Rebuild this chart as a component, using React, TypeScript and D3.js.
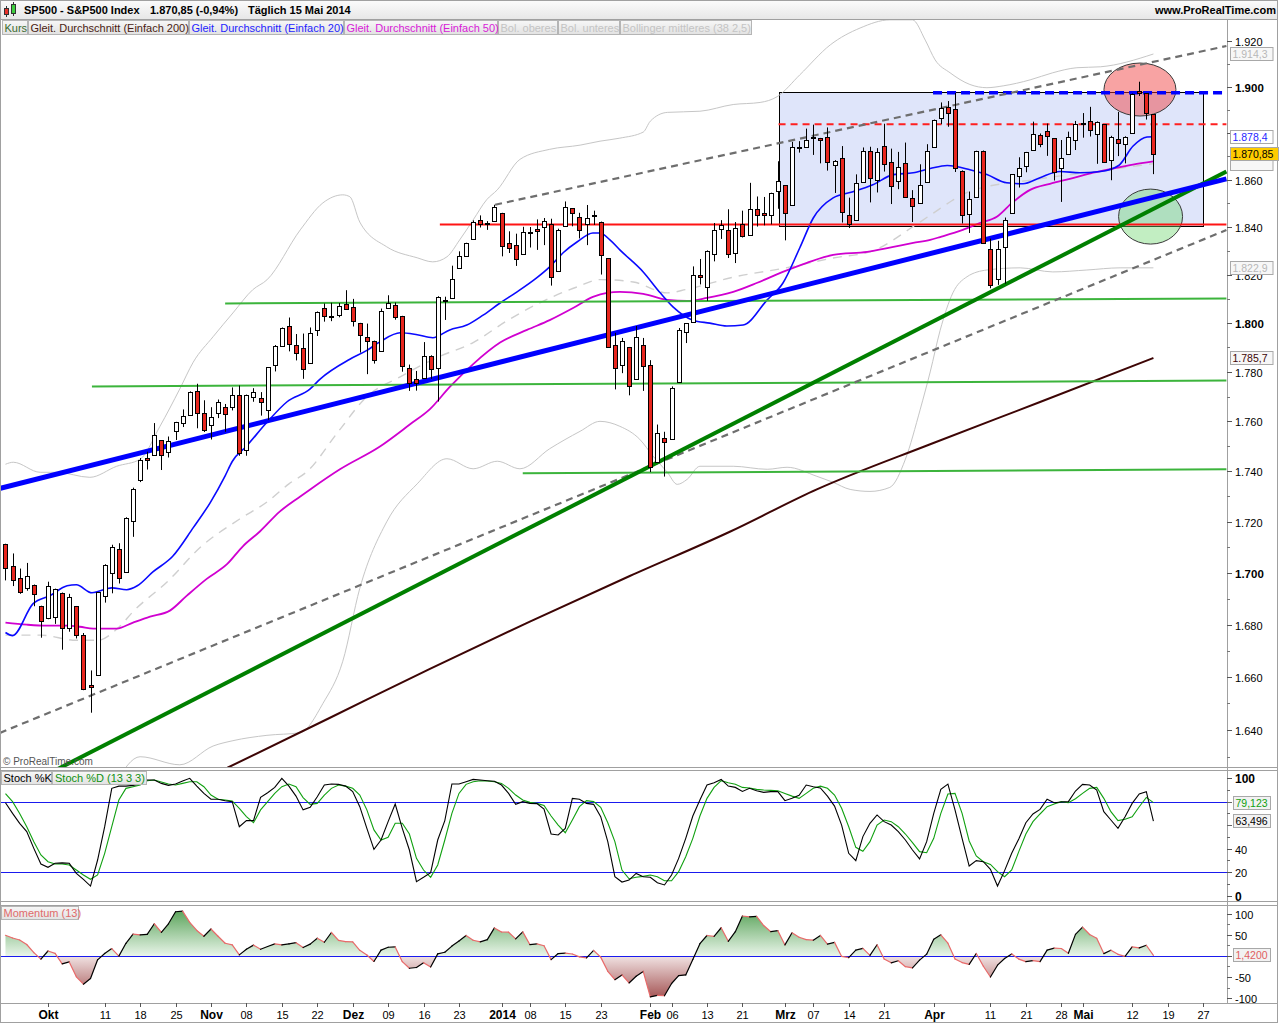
import React from "react";
import * as d3 from "d3";

// ---------------- DATA ----------------
const sessionDays: [string, number[]][] = [
  ["2013-09", [23, 24, 25, 26, 27, 30]],
  ["2013-10", [1, 2, 3, 4, 7, 8, 9, 10, 11, 14, 15, 16, 17, 18, 21, 22, 23, 24, 25, 28, 29, 30, 31]],
  ["2013-11", [1, 4, 5, 6, 7, 8, 11, 12, 13, 14, 15, 18, 19, 20, 21, 22, 25, 26, 27, 29]],
  ["2013-12", [2, 3, 4, 5, 6, 9, 10, 11, 12, 13, 16, 17, 18, 19, 20, 23, 24, 26, 27, 30, 31]],
  ["2014-01", [2, 3, 6, 7, 8, 9, 10, 13, 14, 15, 16, 17, 21, 22, 23, 24, 27, 28, 29, 30, 31]],
  ["2014-02", [3, 4, 5, 6, 7, 10, 11, 12, 13, 14, 18, 19, 20, 21, 24, 25, 26, 27, 28]],
  ["2014-03", [3, 4, 5, 6, 7, 10, 11, 12, 13, 14, 17, 18, 19, 20, 21, 24, 25, 26, 27, 28, 31]],
  ["2014-04", [1, 2, 3, 4, 7, 8, 9, 10, 11, 14, 15, 16, 17, 21, 22, 23, 24, 25, 28, 29, 30]],
  ["2014-05", [1, 2, 5, 6, 7, 8, 9, 12, 13, 14, 15, 16, 19, 20, 21, 22, 23, 27, 28, 29, 30]],
];

const openPrices = [
  1711.4, 1702.6, 1698.0, 1694.0, 1695.5, 1687.3,
  1682.4, 1683.0, 1692.4, 1678.8, 1687.2, 1676.2, 1657.0, 1660.9, 1691.1, 1699.9, 1709.2, 1700.5, 1720.2, 1736.7, 1745.2, 1746.5, 1752.3, 1747.5, 1756.0, 1759.4, 1762.4, 1772.3, 1763.2,
  1758.7, 1763.4, 1765.7, 1765.7, 1770.7, 1748.4, 1770.0, 1769.5, 1764.4, 1782.8, 1790.7, 1798.8, 1790.8, 1789.6, 1783.5, 1797.0, 1806.3, 1802.9, 1803.5, 1808.0,
  1806.6, 1800.1, 1794.2, 1792.8, 1788.4, 1806.2, 1807.6, 1802.8, 1781.7, 1777.0, 1777.5, 1786.5, 1781.5, 1809.0, 1810.4, 1822.9, 1828.0, 1835.0, 1843.0, 1841.5, 1842.6,
  1845.9, 1833.2, 1832.3, 1828.7, 1837.9, 1839.0, 1840.1, 1841.3, 1821.4, 1840.5, 1848.0, 1844.2, 1841.1, 1844.7, 1842.3, 1827.0, 1791.0, 1783.0, 1790.2, 1777.2, 1790.9,
  1782.7, 1743.8, 1753.4, 1753.0, 1776.0, 1796.2, 1800.5, 1820.1, 1814.8, 1828.5, 1839.0, 1838.9, 1829.2, 1841.1, 1836.8, 1847.7, 1845.8, 1844.9, 1855.1,
  1857.7, 1849.2, 1874.1, 1874.2, 1878.5, 1877.9, 1878.3, 1866.2, 1869.1, 1845.1, 1842.8, 1858.9, 1872.3, 1860.1, 1874.5, 1867.7, 1859.5, 1867.1, 1852.1, 1850.1, 1859.2,
  1874.0, 1886.6, 1891.4, 1890.3, 1863.9, 1845.5, 1852.6, 1872.3, 1830.7, 1818.2, 1831.5, 1846.0, 1861.7, 1865.8, 1872.6, 1879.3, 1881.0, 1877.7, 1865.0, 1870.8, 1877.1,
  1884.4, 1885.3, 1879.5, 1883.7, 1868.5, 1877.4, 1875.3, 1880.0, 1898.0, 1897.1, 1888.2,
];
const highPrices = [
  1711.4, 1707.6, 1701.7, 1703.9, 1695.5, 1687.3,
  1696.6, 1693.9, 1692.4, 1691.9, 1687.2, 1676.8, 1662.5, 1692.6, 1703.4, 1711.0, 1711.6, 1721.8, 1733.5, 1745.3, 1747.8, 1759.3, 1752.3, 1753.9, 1759.8, 1764.8, 1772.1, 1775.2, 1768.5,
  1765.7, 1768.8, 1767.0, 1773.7, 1774.5, 1770.8, 1773.4, 1771.8, 1782.0, 1791.0, 1798.2, 1802.3, 1795.5, 1795.7, 1798.2, 1804.8, 1808.1, 1808.4, 1808.3, 1813.6,
  1810.0, 1800.1, 1799.8, 1792.8, 1806.0, 1811.5, 1808.5, 1803.0, 1783.0, 1780.4, 1792.2, 1786.8, 1811.1, 1810.9, 1823.8, 1829.8, 1833.4, 1842.8, 1844.9, 1842.5, 1849.4,
  1846.0, 1838.2, 1837.2, 1840.1, 1840.0, 1843.2, 1843.8, 1843.5, 1839.3, 1850.8, 1848.0, 1846.0, 1849.3, 1846.9, 1842.3, 1827.0, 1796.0, 1793.9, 1790.2, 1798.8, 1793.9,
  1784.8, 1758.7, 1755.8, 1774.1, 1798.0, 1799.9, 1823.5, 1826.6, 1830.2, 1841.7, 1842.9, 1847.5, 1842.1, 1846.9, 1858.7, 1852.9, 1852.7, 1854.5, 1867.9,
  1857.7, 1876.2, 1876.5, 1881.9, 1883.6, 1877.9, 1882.4, 1868.4, 1874.4, 1852.4, 1862.3, 1873.8, 1874.1, 1873.5, 1884.0, 1873.3, 1871.9, 1875.9, 1855.6, 1866.6, 1875.2,
  1885.8, 1893.2, 1893.8, 1897.3, 1864.0, 1855.0, 1872.4, 1872.5, 1835.1, 1834.2, 1844.0, 1862.4, 1869.6, 1871.9, 1884.9, 1879.8, 1884.1, 1877.7, 1877.0, 1880.6, 1885.2,
  1888.6, 1891.3, 1885.0, 1883.7, 1878.8, 1889.1, 1878.6, 1897.1, 1902.2, 1897.1, 1888.2,
];
const lowPrices = [
  1697.1, 1694.9, 1691.9, 1693.1, 1687.1, 1675.0,
  1682.1, 1680.3, 1670.4, 1677.3, 1674.7, 1655.0, 1646.5, 1660.9, 1688.5, 1692.1, 1695.9, 1700.5, 1714.1, 1735.7, 1740.7, 1746.5, 1740.5, 1745.5, 1752.5, 1757.7, 1762.4, 1757.2, 1755.7,
  1752.7, 1761.3, 1755.8, 1764.4, 1746.2, 1746.2, 1767.9, 1762.3, 1760.6, 1780.2, 1790.7, 1788.4, 1784.7, 1777.2, 1783.5, 1794.7, 1800.6, 1800.8, 1802.4, 1805.8,
  1798.6, 1787.9, 1779.1, 1783.4, 1788.4, 1806.2, 1801.4, 1780.1, 1772.3, 1772.4, 1777.5, 1777.2, 1768.0, 1801.3, 1810.4, 1822.9, 1828.0, 1835.0, 1839.8, 1838.8, 1842.4,
  1827.7, 1829.1, 1823.7, 1828.7, 1831.4, 1830.4, 1832.4, 1815.5, 1821.4, 1840.5, 1840.3, 1835.2, 1832.4, 1840.9, 1820.1, 1790.2, 1772.9, 1779.5, 1770.5, 1777.2, 1772.3,
  1739.7, 1743.8, 1737.9, 1753.0, 1776.0, 1791.8, 1800.4, 1816.0, 1809.2, 1825.6, 1835.0, 1827.0, 1824.9, 1835.6, 1836.8, 1840.2, 1840.7, 1841.1, 1847.7,
  1834.4, 1849.2, 1871.6, 1874.2, 1870.6, 1867.0, 1863.9, 1854.4, 1841.9, 1839.6, 1842.8, 1858.9, 1850.4, 1854.6, 1863.5, 1849.7, 1856.0, 1852.5, 1842.1, 1850.1, 1859.2,
  1874.0, 1883.8, 1882.7, 1863.3, 1841.5, 1837.5, 1852.4, 1833.0, 1814.4, 1815.8, 1816.3, 1846.0, 1856.7, 1863.2, 1872.6, 1873.9, 1870.2, 1859.7, 1850.6, 1870.8, 1872.7,
  1878.0, 1878.5, 1866.8, 1867.7, 1859.8, 1870.1, 1867.0, 1880.0, 1896.0, 1885.8, 1862.4,
];
const closePrices = [
  1701.84, 1697.42, 1692.77, 1698.67, 1691.75, 1681.55,
  1695.0, 1693.87, 1678.66, 1690.5, 1676.12, 1655.45, 1656.4, 1692.56, 1703.2, 1710.14, 1698.06, 1721.54, 1733.15, 1744.5, 1744.66, 1754.67, 1746.38, 1752.07, 1759.77, 1762.11, 1771.95, 1763.31, 1756.54,
  1761.64, 1767.93, 1762.97, 1770.49, 1747.15, 1770.61, 1771.89, 1767.69, 1782.0, 1790.62, 1798.18, 1791.53, 1787.87, 1781.37, 1795.85, 1804.76, 1802.75, 1802.48, 1807.23, 1805.81,
  1800.9, 1795.15, 1792.81, 1785.03, 1805.09, 1808.37, 1802.62, 1782.22, 1775.5, 1775.32, 1786.54, 1781.0, 1810.65, 1809.6, 1818.32, 1827.99, 1833.32, 1842.02, 1841.4, 1841.07, 1848.36,
  1831.98, 1831.37, 1826.77, 1837.88, 1837.49, 1838.13, 1842.37, 1819.2, 1838.88, 1848.38, 1845.89, 1838.7, 1843.8, 1844.86, 1828.46, 1790.29, 1781.56, 1792.5, 1774.2, 1794.19, 1782.59,
  1741.89, 1755.2, 1751.64, 1773.43, 1797.02, 1799.84, 1819.75, 1819.26, 1829.83, 1838.63, 1840.76, 1828.75, 1839.78, 1836.25, 1847.61, 1845.12, 1845.16, 1854.29, 1859.45,
  1845.73, 1873.91, 1873.81, 1877.03, 1878.04, 1877.17, 1867.63, 1868.2, 1846.34, 1841.13, 1858.83, 1872.25, 1860.77, 1872.01, 1866.52, 1857.44, 1865.62, 1852.56, 1849.04, 1857.62, 1872.34,
  1885.52, 1890.9, 1888.77, 1865.09, 1845.04, 1851.96, 1872.18, 1833.08, 1815.69, 1830.61, 1842.98, 1862.31, 1864.85, 1871.89, 1879.55, 1875.39, 1878.61, 1863.4, 1869.43, 1878.33, 1883.95,
  1883.68, 1881.14, 1884.66, 1867.72, 1878.21, 1875.63, 1878.48, 1896.65, 1897.45, 1888.53, 1870.85,
];
// the 13 closes before the first visible session (needed for Momentum 13)
const closesBeforeStart = [1653.08, 1655.08, 1655.17, 1671.71, 1683.99, 1689.13, 1683.42, 1687.99, 1697.6, 1704.76, 1725.52, 1722.34, 1709.91];

// indicator lines: [session index, value]
const sma20Points: [number, number][] = [
  [0, 1677], [1, 1675.8], [3.9, 1688.1], [6.3, 1691.2], [8.7, 1695], [10, 1695.4], [12.2, 1692.3], [15, 1694.2], [17.1, 1693.5], [18.6, 1695],
  [20.8, 1700.4], [23.6, 1706.5], [26.5, 1717.7], [28.9, 1727.6], [31, 1738.2], [32, 1743.9], [34, 1750], [36.9, 1759.6], [39.7, 1767.8], [43, 1773.1],
  [44.4, 1777.1], [48.6, 1785.2], [51, 1788.8], [52.9, 1792.4], [55.7, 1796], [58.1, 1795.2], [60.3, 1794], [62.7, 1797.2], [65.1, 1799.2], [67.4, 1803.3],
  [69.8, 1808.3], [72.2, 1812.9], [75, 1818.8], [76.8, 1823.3], [78.7, 1829.2], [80.7, 1833.8], [82.9, 1837.5], [83.9, 1837.5], [85.3, 1834.6], [86.7, 1830.4],
  [90, 1821.2], [92.4, 1812.5], [94.2, 1806.7], [97, 1801.2], [99.4, 1800], [101.8, 1798.8], [104.1, 1799.2], [107.5, 1809.6], [109.7, 1816.5], [112.1, 1831.3],
  [114, 1843.8], [116.8, 1852.3], [119.6, 1854.9], [122.4, 1857.9], [125.3, 1862.2], [128.1, 1863], [130.5, 1864.8], [132.9, 1866.1], [136.1, 1864.3], [138.5, 1862.2],
  [141.3, 1858.7], [143.6, 1858.3], [146, 1860.9], [148.8, 1863.5], [151.6, 1863], [154.5, 1863.5], [157.1, 1866.1], [159.1, 1874.3], [161.1, 1878.3], [162, 1878.4],
];
const sma50Points: [number, number][] = [
  [0, 1680.8], [3, 1680], [5.9, 1679.6], [8.7, 1679.6], [10.5, 1679.2], [12.4, 1678.5], [15.7, 1678.5], [18, 1680.8], [20.4, 1683.1], [23.2, 1685.4],
  [25.6, 1691.2], [28.4, 1697.7], [31.3, 1703.5], [33.5, 1710.4], [35.9, 1716.2], [38.7, 1724], [41.6, 1730], [43, 1732.8], [47.2, 1740.8], [52.9, 1750],
  [57.1, 1758.8], [59.9, 1764.9], [62.7, 1773.9], [66, 1783.2], [69.8, 1792], [73.6, 1797.2], [76.8, 1801.2], [80.1, 1806.2], [82.9, 1810.8], [84.9, 1812.5],
  [86.7, 1812.9], [90, 1812.1], [93.4, 1809.6], [96.2, 1809.2], [99, 1810.4], [102.7, 1812.9], [106.1, 1816.7], [109.7, 1821.2], [113.1, 1825], [116.8, 1828.3],
  [121.6, 1829.6], [125.3, 1831.7], [128.1, 1833.3], [130.5, 1834.6], [131.9, 1835.8], [135.1, 1838.8], [137.5, 1841.7], [139.9, 1844.3], [142.2, 1850.6], [144.6, 1855.7],
  [147.4, 1858.3], [150.2, 1860.4], [153.5, 1863], [156.3, 1864.8], [159.1, 1866.5], [162, 1867.8],
];
const sma200Points: [number, number][] = [
  [22, 1614], [31.4, 1626], [45.8, 1644.6], [59.9, 1663.1], [74, 1681.2], [88.1, 1698.8], [102.3, 1716.2], [114.5, 1732.8], [130.5, 1750.8], [146, 1767.8], [162, 1785.7],
];
const bollUpperPoints: [number, number][] = [
  [0, 1742.8], [1.1, 1743.6], [4.9, 1739.6], [7.3, 1739.6], [11.9, 1737.6], [15.7, 1742], [19, 1744.8], [21.8, 1758], [24.6, 1773.1], [26.5, 1784],
  [29.3, 1794.4], [32.1, 1804.2], [34.9, 1813.8], [36.9, 1817.9], [41.6, 1838.8], [44.8, 1850.2], [47.6, 1853.6], [48.6, 1852.8], [50, 1842.1], [53.8, 1831.7],
  [58.1, 1827.1], [60.3, 1825.4], [62.3, 1827.5], [64.1, 1834.6], [66, 1843], [67.9, 1851.5], [69.4, 1855.7], [72.6, 1868.7], [76.8, 1873], [81.1, 1874.8],
  [83.9, 1876.5], [86.7, 1877.8], [90, 1880.4], [91, 1885.1], [93.4, 1888.9], [98, 1889.4], [102.7, 1892.3], [106.5, 1893.2], [108.9, 1895.7], [112.1, 1905.2],
  [116.4, 1918.3], [120.6, 1925.7], [124.8, 1929.3], [128, 1929.3], [129.8, 1920.4], [131.2, 1911.7], [133.3, 1906.1], [136.1, 1901], [138.5, 1899.6], [140.8, 1900.4],
  [144.6, 1903], [147.8, 1906.1], [151.2, 1908.3], [154.5, 1908.7], [162, 1914.3],
];
const bollMidPoints: [number, number][] = [
  [0, 1676], [5, 1676], [10, 1674], [13, 1674], [16, 1679], [18, 1685], [23, 1697], [27.5, 1710], [33, 1721], [37, 1728],
  [40, 1735], [42.6, 1740], [47, 1756], [51, 1770], [55.7, 1778], [61, 1786], [66, 1792], [70.8, 1801], [77.3, 1811], [80.7, 1815],
  [83.9, 1818], [88.6, 1817], [93.4, 1812.5], [96.2, 1814], [102.7, 1819], [110.3, 1823], [116.8, 1827], [122.4, 1830], [128, 1840], [131, 1846],
  [133.5, 1851], [136, 1855], [145, 1860], [155, 1864], [162, 1866.9],
];
const bollLowerPoints: [number, number][] = [
  [0, 1609], [12, 1610], [19, 1630], [24.6, 1627], [29.3, 1634], [32.1, 1636], [36.9, 1638], [41.6, 1639], [44.8, 1650], [47.6, 1666],
  [50, 1694], [53.8, 1720], [58.1, 1735], [62.3, 1745], [66, 1741], [69.4, 1744], [72.6, 1741], [76.8, 1749], [81.1, 1756], [83.9, 1760],
  [86.7, 1758], [89.5, 1752.8], [91.4, 1746], [93.4, 1739.6], [94.8, 1734.8], [96.2, 1736.8], [98, 1742], [102.7, 1742], [107.5, 1740.8], [110.3, 1741.6],
  [114.5, 1738], [116.8, 1735.6], [119.2, 1732.8], [122, 1732], [124.8, 1733.6], [127, 1744.8], [129.1, 1764.9], [130.5, 1780], [131.9, 1797], [133.7, 1812.5],
  [135.7, 1819.2], [138.5, 1822], [143.2, 1822.9], [147.8, 1821.2], [152.6, 1822], [157.3, 1822.9], [162, 1822.9],
];

const stochK = [
  79, 70, 61.6, 54.5, 40.3, 27, 24.2, 27.6, 28, 27.6,
  19, 14, 8.3, 30.4, 58.7, 91.3, 93.2, 93.2, 93.8, 95,
  98.4, 98.4, 95.5, 93.8, 95, 97.5, 99.8, 93.2, 87, 82,
  82, 80.8, 80, 58.7, 63.9, 63.9, 83.6, 87.6, 92.1, 99.8,
  93.2, 84.7, 73, 75.2, 84.2, 94.1, 95, 94.7, 93.2, 88.5,
  75.7, 57.3, 39.5, 47.4, 63, 78, 57.3, 38.9, 12, 15.7,
  19.6, 47.4, 63.9, 95, 95, 96.9, 98.9, 98.4, 97.8, 97.3,
  94.1, 87, 77.7, 80, 78.5, 78.3, 73.7, 52.5, 51.7, 57.3,
  82.8, 82, 78.5, 77.7, 67.2, 46, 16.2, 11.7, 13.4, 19,
  16.2, 15.7, 11.1, 9.2, 17.7, 31.8, 48.8, 67.8, 81.4, 94.1,
  96.1, 98.9, 93.2, 92.1, 88.7, 91.3, 89.3, 87.9, 88.5, 88.5,
  80.8, 82.8, 85.4, 94.1, 92.7, 91.6, 84.7, 76.2, 60.1, 36.1,
  29.9, 50.3, 61.6, 68.7, 63, 60.1, 54.5, 47.4, 38.9, 31.3,
  46, 70, 90.4, 94.9, 73, 48.8, 25.3, 29.9, 29, 22.5,
  8.3, 21.4, 36.1, 48.3, 62.1, 69.5, 73.4, 82, 79.1, 79.7,
  80, 89, 94.7, 94.1, 89.9, 71.5, 64.4, 57.3, 67.2, 78.5,
  86.5, 88.5, 63.496,
];
const stochD = [
  86.9, 80, 70, 58.7, 46, 34.7, 29, 27, 27, 26.2,
  21.9, 17.7, 14, 17.7, 36.1, 58.7, 81.4, 91.3, 92.7, 94.1,
  97.8, 98.4, 96.7, 95, 94.1, 95.5, 96.9, 96.9, 92.7, 85.6,
  82, 81.4, 80.6, 74.3, 67.3, 62.1, 73, 80, 87, 92.7,
  95, 92.7, 83.4, 77.7, 78.5, 85.6, 91.3, 94.1, 93.2, 91.3,
  85.6, 73, 56, 47.4, 49.7, 61.6, 61.6, 52.5, 31.8, 21.9,
  15.7, 26.2, 47.4, 70, 87, 94.7, 96.9, 97.8, 97.5, 96.9,
  95.5, 91.3, 85.6, 81.4, 79.4, 78.5, 76.8, 67.8, 60.1, 53.6,
  64.4, 75.7, 80.8, 80, 75.2, 62.1, 46, 21.9, 14.5, 15.7,
  16.5, 17.7, 16.2, 12.8, 12.8, 20.5, 33.2, 48.8, 67.8, 82.8,
  92.1, 97.8, 96.1, 94.7, 92.1, 91.6, 90.4, 89.9, 89.6, 89.3,
  87, 84.7, 82.8, 87, 91.3, 93.2, 91.3, 85.6, 74.3, 58.7,
  41.2, 37.8, 46, 60.1, 64.4, 63, 58.7, 52.5, 45.1, 37.5,
  36.6, 48.8, 70, 86.5, 87, 70, 46.6, 33.8, 29, 26.7,
  20.5, 16.2, 21.9, 37.5, 52.5, 63, 69.5, 75.7, 78, 80,
  79.1, 82.5, 87, 91.3, 92.1, 82.8, 71.5, 63.9, 65, 67.2,
  75.7, 83.6, 79.123,
];

// drawn objects (session index, price)
const thickBlueLine: [number, number][] = [[-0.8, 1733.2], [172.3, 1860.4]];
const thickGreenLine: [number, number][] = [[5.5, 1622.9], [172.3, 1863.5]];
const lowerChannel: [number, number][] = [[-0.8, 1638.9], [172.3, 1838.75]];
const upperChannel: [number, number][] = [[69.1, 1849.4], [172.3, 1917.8]];
const supportRed: [number, number][] = [[61.3, 1841.1], [172.3, 1841.1]];
const resistanceRedDash: [number, number][] = [[109.1, 1883.8], [172.3, 1883.8]];
const resistanceBlueDash: [number, number][] = [[130.9, 1897.4], [172.3, 1897.4]];
const greenLevels: [number, number][][] = [
  [[31.0, 1808.1], [172.3, 1810.2]],
  [[12.2, 1774.1], [172.3, 1776.5]],
  [[73.0, 1739.2], [172.3, 1740.8]],
];
const rangeBox = { i0: 109.1, i1: 169.0, p0: 1840.5, p1: 1897.7 };
const redCircle = { i: 160.1, p: 1898.8 };
const greenCircle = { i: 161.6, p: 1844.4 };

// labels hidden behind value boxes in the reference are left out (1.880, 80, 60, 0)
const priceTicks = [1640, 1660, 1680, 1700, 1720, 1740, 1760, 1780, 1800, 1820, 1840, 1860, 1900, 1920];
const stochTicks = [0, 20, 40, 100];
const momTicks = [-100, -50, 50, 100];
const timeLabels: [string, string, boolean][] = [
  ["2013-10-01", "Okt", true], ["2013-10-11", "11", false], ["2013-10-18", "18", false], ["2013-10-25", "25", false],
  ["2013-11-01", "Nov", true], ["2013-11-08", "08", false], ["2013-11-15", "15", false], ["2013-11-22", "22", false],
  ["2013-12-02", "Dez", true], ["2013-12-09", "09", false], ["2013-12-16", "16", false], ["2013-12-23", "23", false],
  ["2014-01-02", "2014", true], ["2014-01-08", "08", false], ["2014-01-15", "15", false], ["2014-01-23", "23", false],
  ["2014-02-03", "Feb", true], ["2014-02-06", "06", false], ["2014-02-13", "13", false], ["2014-02-21", "21", false],
  ["2014-03-03", "Mrz", true], ["2014-03-07", "07", false], ["2014-03-14", "14", false], ["2014-03-21", "21", false],
  ["2014-04-01", "Apr", true], ["2014-04-11", "11", false], ["2014-04-21", "21", false], ["2014-04-28", "28", false],
  ["2014-05-01", "Mai", true], ["2014-05-12", "12", false], ["2014-05-19", "19", false], ["2014-05-27", "27", false],
];
const legendItems: [string, string][] = [
  ["Kurs", "#3b6b2f"],
  ["Gleit. Durchschnitt (Einfach 200)", "#4a1c12"],
  ["Gleit. Durchschnitt (Einfach 20)", "#1f1fff"],
  ["Gleit. Durchschnitt (Einfach 50)", "#d81ad8"],
  ["Bol. oberes", "#c4c4c4"],
  ["Bol. unteres", "#c4c4c4"],
  ["Bollinger mittleres (38 2,5)", "#c4c4c4"],
];

// ---------------- CHART ----------------
const FONT = "'Liberation Sans', Arial, Helvetica, sans-serif";
const de = d3.formatLocale({ decimal: ",", thousands: ".", grouping: [3], currency: ["", " €"], minus: "-" } as any);

export default function App() {
  const allDates = sessionDays.flatMap(([m, ds]) => ds.map((d) => `${m}-${String(d).padStart(2, "0")}`));
  const n = closePrices.length;

  const plotR = 1227;
  const mainTop = 19, mainBot = 767;
  const stTop = 770, stBot = 901;
  const moTop = 905, moBot = 1003;
  const frameR = 1277;

  const x = d3.scaleLinear().domain([0, 169]).range([5.48, 5.48 + 7.086 * 169]);
  const yP = d3.scaleLog().domain([1640, 1920]).range([730, 41]);
  const yS = d3.scaleLinear().domain([0, 100]).range([895.8, 778.1]);
  const yM = d3.scaleLinear().domain([-100, 100]).range([998.2, 913.6]);

  const momentum = closePrices.map((c, i) => c - (i >= 13 ? closePrices[i - 13] : closesBeforeStart[i]));

  const priceLine = d3.line<[number, number]>().x((d) => x(d[0])).y((d) => yP(d[1])).curve(d3.curveMonotoneX);
  const stochLine = d3.line<number>().x((_, i) => x(i)).y((d) => yS(d));
  const momArea = d3.area<number>().x((_, i) => x(i)).y0(yM(0)).y1((d) => yM(d));

  const f0 = de.format(",.0f");
  const f1 = de.format(",.1f");
  const f2 = de.format(",.2f");
  const f3 = de.format(".3f");
  const f4 = de.format(".4f");
  const pct = de.format(".2f");

  const last = closePrices[n - 1];
  const prev = closePrices[n - 2];
  const chg = ((last - prev) / prev) * 100;

  const seg = (pts: [number, number][]) => ({ x1: x(pts[0][0]), y1: yP(pts[0][1]), x2: x(pts[1][0]), y2: yP(pts[1][1]) });
  const lastOf = (a: [number, number][]) => a[a.length - 1][1];

  const legendX = [2, 28, 189, 344, 498, 558, 620, 752];

  const valueBox = (key: string, y: number, text: string, color: string, bg: string, x0 = 1230, showText = true) => {
    const w = text.length * 5.5 + 4;
    return (
      <g key={key}>
        <rect x={x0 + 0.5} y={Math.round(y - 7) + 0.5} width={w} height={13} fill={bg} stroke="#a8a8a8" />
        {showText && <text x={x0 + 2.5} y={Math.round(y - 7) + 11} fontSize={10.5} fill={color}>{text}</text>}
      </g>
    );
  };

  const minorPrice: number[] = [];
  for (let v = 1630; v <= 1920; v += 10) if (v % 20 !== 0) minorPrice.push(v);

  const rb = {
    x: Math.round(x(rangeBox.i0)) + 0.5,
    y: Math.round(yP(rangeBox.p1)) + 0.5,
    w: Math.round(x(rangeBox.i1)) - Math.round(x(rangeBox.i0)),
    h: Math.round(yP(rangeBox.p0)) - Math.round(yP(rangeBox.p1)),
  };

  return (
    <div style={{ position: "absolute", left: 0, top: 0 }}>
      <svg width={1280} height={1024} style={{ display: "block", fontFamily: FONT }}>
        <defs>
          <linearGradient id="hdr" x1="0" y1="0" x2="0" y2="1">
            <stop offset="0" stopColor="#fbfbfb" />
            <stop offset="1" stopColor="#e7e7e7" />
          </linearGradient>
          <linearGradient id="lgd" x1="0" y1="0" x2="0" y2="1">
            <stop offset="0" stopColor="#f7f7f7" />
            <stop offset="1" stopColor="#e2e2e2" />
          </linearGradient>
          <linearGradient id="momUp" gradientUnits="userSpaceOnUse" x1="0" y1={moTop} x2="0" y2={yM(0)}>
            <stop offset="0" stopColor="#4a9a4a" />
            <stop offset="1" stopColor="#e9f5e9" />
          </linearGradient>
          <linearGradient id="momDn" gradientUnits="userSpaceOnUse" x1="0" y1={yM(0)} x2="0" y2={moBot}>
            <stop offset="0" stopColor="#f1e3e3" />
            <stop offset="1" stopColor="#9c4444" />
          </linearGradient>
          <clipPath id="clipMain"><rect x={1} y={mainTop + 1} width={plotR - 1} height={mainBot - mainTop - 1} /></clipPath>
          <clipPath id="clipSt"><rect x={1} y={stTop + 1} width={plotR - 1} height={stBot - stTop - 1} /></clipPath>
          <clipPath id="clipMo"><rect x={1} y={moTop + 1} width={plotR - 1} height={moBot - moTop - 1} /></clipPath>
          <clipPath id="clipMoUp"><rect x={1} y={moTop + 1} width={plotR - 1} height={yM(0) - moTop - 1} /></clipPath>
          <clipPath id="clipMoDn"><rect x={1} y={yM(0)} width={plotR - 1} height={moBot - yM(0)} /></clipPath>
        </defs>

        <rect x={0} y={0} width={1280} height={1024} fill="#ffffff" />

        {/* header */}
        <rect x={0.5} y={0.5} width={frameR} height={mainTop} fill="url(#hdr)" stroke="#a0a0a0" />
        <g>
          <line x1={6.5} x2={6.5} y1={6} y2={17} stroke="#333" />
          <rect x={4.5} y={8.5} width={4} height={6} fill="#e8312a" stroke="#333" />
          <line x1={13.5} x2={13.5} y1={2} y2={16} stroke="#333" />
          <rect x={11.5} y={4.5} width={4} height={9} fill="#3fcf3f" stroke="#333" />
        </g>
        <text x={24} y={14} fontSize={11} fontWeight="bold" fill="#000">SP500 - S&amp;P500 Index</text>
        <text x={150} y={14} fontSize={11} fontWeight="bold" fill="#000">{`${f2(last)} (${pct(chg)}%)`}</text>
        <text x={248} y={14} fontSize={11} fontWeight="bold" fill="#000">Täglich  15 Mai 2014</text>
        <text x={1276} y={14} fontSize={11} fontWeight="bold" fill="#000" textAnchor="end">www.ProRealTime.com</text>

        {/* ---------- main panel ---------- */}
        <g clipPath="url(#clipMain)">
          <rect x={rb.x} y={rb.y} width={rb.w} height={rb.h} fill="#dfe5fa" stroke="#000" strokeWidth={1} />
          <ellipse cx={x(redCircle.i)} cy={yP(redCircle.p)} rx={36} ry={26.5} fill="rgba(240,60,60,0.47)" stroke="#3a3a3a" />
          <ellipse cx={x(greenCircle.i)} cy={yP(greenCircle.p)} rx={32} ry={27.5} fill="rgba(110,215,110,0.42)" stroke="#3a3a3a" />

          {/* Bollinger */}
          <path d={priceLine(bollUpperPoints) || ""} fill="none" stroke="#c6c6c6" strokeWidth={1} />
          <path d={priceLine(bollLowerPoints) || ""} fill="none" stroke="#c6c6c6" strokeWidth={1} />
          <path d={priceLine(bollMidPoints) || ""} fill="none" stroke="#cfcfcf" strokeWidth={1.4} strokeDasharray="9,7" />

          {/* moving averages */}
          <path d={priceLine(sma200Points) || ""} fill="none" stroke="#3d0505" strokeWidth={2} />
          <path d={priceLine(sma50Points) || ""} fill="none" stroke="#d000d0" strokeWidth={1.8} />
          <path d={priceLine(sma20Points) || ""} fill="none" stroke="#0a0aff" strokeWidth={1.6} />

          {/* drawn lines */}
          {greenLevels.map((g, k) => (
            <line key={"gl" + k} {...seg(g)} stroke="#3cb43c" strokeWidth={2} />
          ))}
          <line {...seg(supportRed)} stroke="#ff1414" strokeWidth={2} />
          <line {...seg(resistanceRedDash)} stroke="#ff2020" strokeWidth={2} strokeDasharray="7,5" />
          <line {...seg(resistanceBlueDash)} stroke="#0000ff" strokeWidth={3.5} strokeDasharray="9,5" />
          <line {...seg(lowerChannel)} stroke="#6e6e6e" strokeWidth={2.2} strokeDasharray="7,5" />
          <line {...seg(upperChannel)} stroke="#6e6e6e" strokeWidth={2.2} strokeDasharray="7,5" />
          <line {...seg(thickGreenLine)} stroke="#008000" strokeWidth={4} />
          <line {...seg(thickBlueLine)} stroke="#0000ff" strokeWidth={5} />

          {/* candles */}
          {closePrices.map((c, i) => {
            const o = openPrices[i];
            const h = highPrices[i];
            const l = lowPrices[i];
            const xc = Math.round(x(i));
            const up = c >= o;
            const top = Math.round(yP(Math.max(o, c))) + 0.5;
            let bot = Math.round(yP(Math.min(o, c))) + 0.5;
            if (bot - top < 1) bot = top + 1;
            return (
              <g key={"c" + i}>
                <line x1={xc + 0.5} x2={xc + 0.5} y1={yP(h)} y2={yP(l)} stroke="#000" strokeWidth={1} />
                <rect x={xc - 1.5} y={top} width={4} height={bot - top} fill={up ? "#ffffff" : "#e8261e"} stroke="#000" strokeWidth={1} />
              </g>
            );
          })}
        </g>
        <text x={3} y={765} fontSize={10} fill="#555">© ProRealTime.com</text>

        {/* legend row */}
        {legendItems.map(([t, col], k) => (
          <g key={"lg" + k}>
            <rect x={legendX[k] + 0.5} y={20.5} width={legendX[k + 1] - legendX[k] - 1} height={14} fill="url(#lgd)" stroke="#b5b5b5" />
            <text x={legendX[k] + 2.5} y={31.5} fontSize={11} fill={col}>{t}</text>
          </g>
        ))}

        {/* ---------- stochastic panel ---------- */}
        <g clipPath="url(#clipSt)">
          <line x1={0} x2={plotR} y1={Math.round(yS(80)) + 0.5} y2={Math.round(yS(80)) + 0.5} stroke="#1a1aee" />
          <line x1={0} x2={plotR} y1={Math.round(yS(20)) + 0.5} y2={Math.round(yS(20)) + 0.5} stroke="#1a1aee" />
          <path d={stochLine(stochD) || ""} fill="none" stroke="#10a010" strokeWidth={1.1} />
          <path d={stochLine(stochK) || ""} fill="none" stroke="#000" strokeWidth={1.1} />
        </g>
        <rect x={1.5} y={771.5} width={50} height={13} fill="url(#lgd)" stroke="#b5b5b5" />
        <text x={3.5} y={782} fontSize={11} fill="#000">Stoch %K</text>
        <rect x={52.5} y={771.5} width={94} height={13} fill="url(#lgd)" stroke="#b5b5b5" />
        <text x={55} y={782} fontSize={11} fill="#109010">Stoch %D (13 3 3)</text>

        {/* ---------- momentum panel ---------- */}
        <g clipPath="url(#clipMo)">
          <path d={momArea(momentum) || ""} fill="url(#momUp)" clipPath="url(#clipMoUp)" />
          <path d={momArea(momentum) || ""} fill="url(#momDn)" clipPath="url(#clipMoDn)" />
          <line x1={0} x2={plotR} y1={Math.round(yM(0)) + 0.5} y2={Math.round(yM(0)) + 0.5} stroke="#1a1aee" />
          {momentum.slice(1).map((m, k) => {
            const i = k + 1;
            return (
              <line key={"m" + i} x1={x(i - 1)} y1={yM(momentum[i - 1])} x2={x(i)} y2={yM(m)}
                stroke={m >= momentum[i - 1] ? "#000" : "#e86a6a"} strokeWidth={1.2} strokeLinecap="round" />
            );
          })}
        </g>
        <rect x={1.5} y={906.5} width={77} height={13} fill="url(#lgd)" stroke="#b5b5b5" />
        <text x={3.5} y={917} fontSize={11} fill="#e06a6a">Momentum (13)</text>

        {/* ---------- frames ---------- */}
        <rect x={0.5} y={mainTop + 0.5} width={frameR} height={mainBot - mainTop} fill="none" stroke="#a0a0a0" />
        <rect x={0.5} y={stTop + 0.5} width={frameR} height={stBot - stTop} fill="none" stroke="#a0a0a0" />
        <rect x={0.5} y={moTop + 0.5} width={frameR} height={moBot - moTop} fill="none" stroke="#a0a0a0" />
        <rect x={0.5} y={0.5} width={frameR} height={1022} fill="none" stroke="#a0a0a0" />
        <line x1={plotR + 0.5} x2={plotR + 0.5} y1={mainTop} y2={moBot} stroke="#a0a0a0" />

        {/* price axis */}
        {minorPrice.map((v) => (
          <line key={"mp" + v} x1={plotR} x2={plotR + 3} y1={Math.round(yP(v)) + 0.5} y2={Math.round(yP(v)) + 0.5} stroke="#777" />
        ))}
        <line x1={plotR} x2={plotR + 5} y1={Math.round(yP(1880)) + 0.5} y2={Math.round(yP(1880)) + 0.5} stroke="#555" />
        {priceTicks.map((v) => {
          const y = Math.round(yP(v)) + 0.5;
          const bold = v % 100 === 0;
          return (
            <g key={"pt" + v}>
              <line x1={plotR} x2={plotR + 5} y1={y} y2={y} stroke="#555" />
              <text x={1235} y={y + 4} fontSize={bold ? 11.5 : 11} fontWeight={bold ? "bold" : "normal"} fill="#000">{f0(v)}</text>
            </g>
          );
        })}
        {valueBox("bu", yP(lastOf(bollUpperPoints)), f1(lastOf(bollUpperPoints)), "#b8b8b8", "#f7f7f7")}
        {valueBox("s20", yP(lastOf(sma20Points)), f1(lastOf(sma20Points)), "#1f1fff", "#ffffff")}
        {valueBox("bm", yP(lastOf(bollMidPoints)), f1(lastOf(bollMidPoints)), "#b8b8b8", "#f7f7f7", 1230, false)}
        {valueBox("cl", yP(last), f2(last), "#000", "#ffcc00")}
        {valueBox("bl", yP(lastOf(bollLowerPoints)), f1(lastOf(bollLowerPoints)), "#b8b8b8", "#f7f7f7")}
        {valueBox("s200", yP(lastOf(sma200Points)), f1(lastOf(sma200Points)), "#3d0505", "#f7f7f7")}

        {/* stochastic axis */}
        {d3.range(10, 100, 10).map((v) => (
          <line key={"ms" + v} x1={plotR} x2={plotR + (v % 20 === 0 ? 5 : 3)} y1={Math.round(yS(v)) + 0.5} y2={Math.round(yS(v)) + 0.5} stroke="#666" />
        ))}
        {stochTicks.map((v) => {
          const y = Math.round(yS(v)) + 0.5;
          const bold = v === 100 || v === 0;
          return (
            <g key={"st" + v}>
              <line x1={plotR} x2={plotR + 5} y1={y} y2={y} stroke="#555" />
              <text x={1235} y={y + 4} fontSize={bold ? 12 : 11} fontWeight={bold ? "bold" : "normal"} fill="#000">{v}</text>
            </g>
          );
        })}
        {valueBox("sd", yS(stochD[n - 1]), f3(stochD[n - 1]), "#10a010", "#f2f2f2", 1233)}
        {valueBox("sk", yS(stochK[n - 1]), f3(stochK[n - 1]), "#000", "#f2f2f2", 1233)}

        {/* momentum axis */}
        {[-75, -25, 25, 75].map((v) => (
          <line key={"mm" + v} x1={plotR} x2={plotR + 3} y1={Math.round(yM(v)) + 0.5} y2={Math.round(yM(v)) + 0.5} stroke="#777" />
        ))}
        {momTicks.map((v) => {
          const y = Math.round(yM(v)) + 0.5;
          return (
            <g key={"mt" + v}>
              <line x1={plotR} x2={plotR + 5} y1={y} y2={y} stroke="#555" />
              <text x={1235} y={y + 4} fontSize={11} fill="#000">{v}</text>
            </g>
          );
        })}
        <line x1={plotR} x2={plotR + 5} y1={Math.round(yM(0)) + 0.5} y2={Math.round(yM(0)) + 0.5} stroke="#555" />
        {valueBox("mo", yM(momentum[n - 1]), f4(momentum[n - 1]), "#e06060", "#f2f2f2", 1233)}

        {/* time axis */}
        {timeLabels.map(([d, t, bold]) => {
          const i = allDates.indexOf(d);
          const xc = Math.round(x(i)) + 0.5;
          return (
            <g key={"tl" + d}>
              <line x1={xc} x2={xc} y1={moBot} y2={moBot + 4} stroke="#555" />
              <text x={xc} y={1019} fontSize={bold ? 12 : 11} fontWeight={bold ? "bold" : "normal"} textAnchor="middle" fill="#000">{t}</text>
            </g>
          );
        })}
      </svg>
    </div>
  );
}
